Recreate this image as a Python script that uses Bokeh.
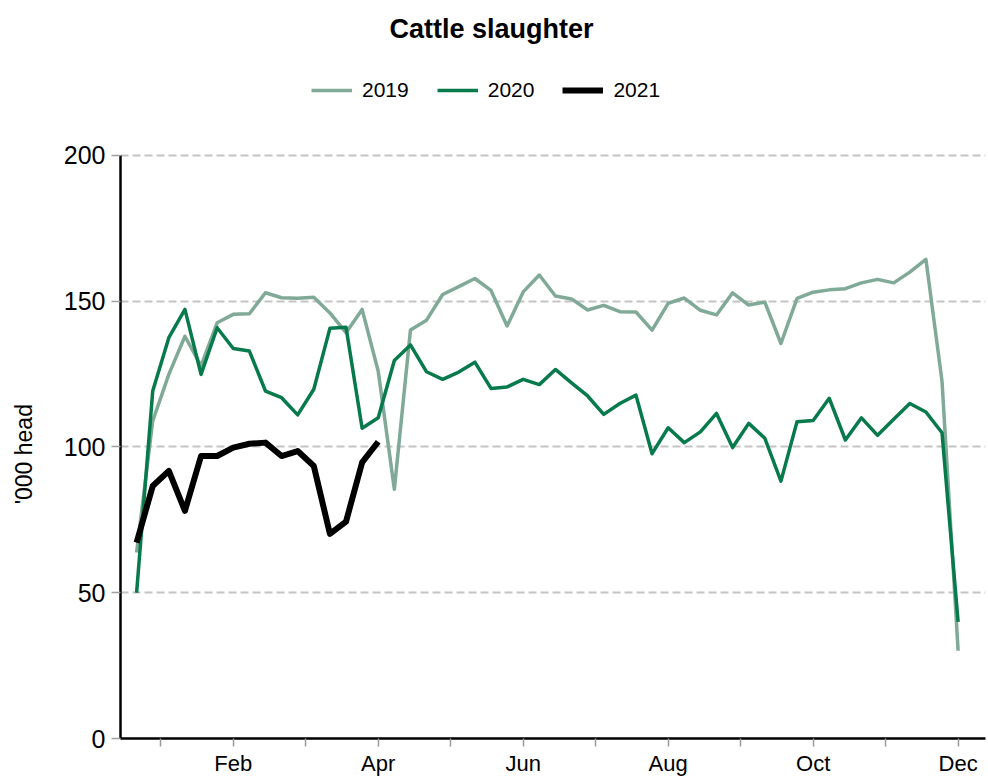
from bokeh.plotting import figure
from bokeh.models import Range1d, FixedTicker, Legend, LegendItem
from bokeh.embed import file_html
from bokeh.resources import INLINE

# weekly index (52 weeks)
weeks = list(range(52))

y2019 = [63.8, 108.9, 124.9, 138.0, 127.8, 142.6, 145.5, 145.7, 152.9, 151.2,
         151.0, 151.4, 146.0, 139.2, 147.2, 126.0, 85.5, 140.1, 143.5, 152.3,
         155.0, 157.8, 153.7, 141.5, 153.2, 159.0, 151.8, 150.8, 147.0, 148.6,
         146.4, 146.3, 140.1, 149.3, 151.1, 146.9, 145.3, 152.9, 148.7, 149.7,
         135.5, 151.0, 153.1, 153.9, 154.3, 156.3, 157.5, 156.3, 160.0, 164.4,
         122.6, 30.1]

y2020 = [50.0, 119.2, 137.5, 147.2, 124.9, 140.9, 133.8, 132.9, 119.2, 116.9,
         111.0, 119.8, 140.7, 141.1, 106.4, 110.0, 129.7, 135.0, 125.8, 123.2,
         125.7, 129.1, 120.1, 120.6, 123.2, 121.4, 126.6, 122.0, 117.5, 111.2,
         114.9, 117.8, 97.7, 106.6, 101.5, 105.2, 111.5, 99.8, 108.1, 103.0,
         88.3, 108.7, 109.1, 116.7, 102.4, 110.0, 104.0, 109.5, 114.9, 112.0,
         104.9, 40.0]

y2021 = [67.2, 86.6, 91.8, 78.1, 96.9, 96.9, 99.8, 101.1, 101.5, 96.9,
         98.6, 93.5, 70.2, 74.4, 94.7, 101.8]
weeks2021 = weeks[:len(y2021)]

month_ticks = [1.5, 6, 10.5, 15, 19.5, 24, 28.5, 33, 37.5, 42, 46.5, 51]
month_labels = ["", "Feb", "", "Apr", "", "Jun", "", "Aug", "", "Oct", "", "Dec"]
y_ticks = [0, 50, 100, 150, 200]
grid_ticks = [50, 100, 150, 200]

FONT = "Liberation Sans"

# frame extends above the 200 line to hold the legend (axis bounded to 0-200)
p = figure(frame_width=865, frame_height=690,
           x_range=Range1d(-1, 52.7), y_range=Range1d(0, 236.7),
           output_backend="svg", toolbar_location=None,
           min_border_left=120, min_border_top=48,
           min_border_right=2, min_border_bottom=38)

p.outline_line_color = None
p.background_fill_color = "white"
p.border_fill_color = "white"

# title
p.title.text = "Cattle slaughter"
p.title.align = "left"
p.title.text_font = FONT
p.title.text_font_size = "27px"
p.title.text_font_style = "bold"
p.title.text_color = "#000000"
p.title.offset = 269
p.title.standoff = 10

r19 = p.line(weeks, y2019, line_color="#80a997", line_width=3.5, line_join="round")
r20 = p.line(weeks, y2020, line_color="#077a4c", line_width=3.5, line_join="round")
r21 = p.line(weeks2021, y2021, line_color="#000000", line_width=6, line_join="round")

# axes
xa = p.xaxis[0]
xa.ticker = FixedTicker(ticks=month_ticks)
xa.major_label_overrides = {t: l for t, l in zip(month_ticks, month_labels)}
xa.axis_line_color = "#000000"
xa.axis_line_width = 2.5
xa.major_tick_line_color = "#9a9a9a"
xa.major_tick_line_width = 1.5
xa.major_tick_out = 8
xa.major_tick_in = 0
xa.minor_tick_line_color = None
xa.major_label_text_font = FONT
xa.major_label_text_font_size = "22px"
xa.major_label_text_color = "#000000"
xa.major_label_standoff = 4

ya = p.yaxis[0]
ya.ticker = FixedTicker(ticks=y_ticks)
ya.bounds = (0, 200)
ya.axis_line_color = "#000000"
ya.axis_line_width = 2.5
ya.major_tick_line_color = "#a0a0a0"
ya.major_tick_line_width = 1.5
ya.major_tick_out = 9
ya.major_tick_in = 0
ya.minor_tick_line_color = None
ya.major_label_text_font = FONT
ya.major_label_text_font_size = "25px"
ya.major_label_text_color = "#000000"
ya.major_label_standoff = 6
# non-breaking spaces keep the label centred on the 0-200 part of the axis
ya.axis_label = "'000 head" + "\u00a0" * 19
ya.axis_label_text_font = FONT
ya.axis_label_text_font_size = "23px"
ya.axis_label_text_font_style = "normal"
ya.axis_label_text_color = "#000000"
ya.axis_label_standoff = 24

p.xgrid.grid_line_color = None
p.ygrid.ticker = FixedTicker(ticks=grid_ticks)
p.ygrid.grid_line_color = "#c4c4c4"
p.ygrid.grid_line_width = 2
p.ygrid.grid_line_dash = "8 4"

legend = Legend(items=[LegendItem(label="2019", renderers=[r19]),
                       LegendItem(label="2020", renderers=[r20]),
                       LegendItem(label="2021", renderers=[r21])],
                orientation="horizontal", location=(191, 636),
                glyph_width=41, glyph_height=24, label_height=24,
                label_standoff=10, spacing=28, padding=0, margin=0,
                border_line_color=None, background_fill_alpha=0,
                label_text_font=FONT, label_text_font_size="21px",
                label_text_color="#000000")
p.add_layout(legend, "center")

open("out.html", "w").write(file_html(p, INLINE))
